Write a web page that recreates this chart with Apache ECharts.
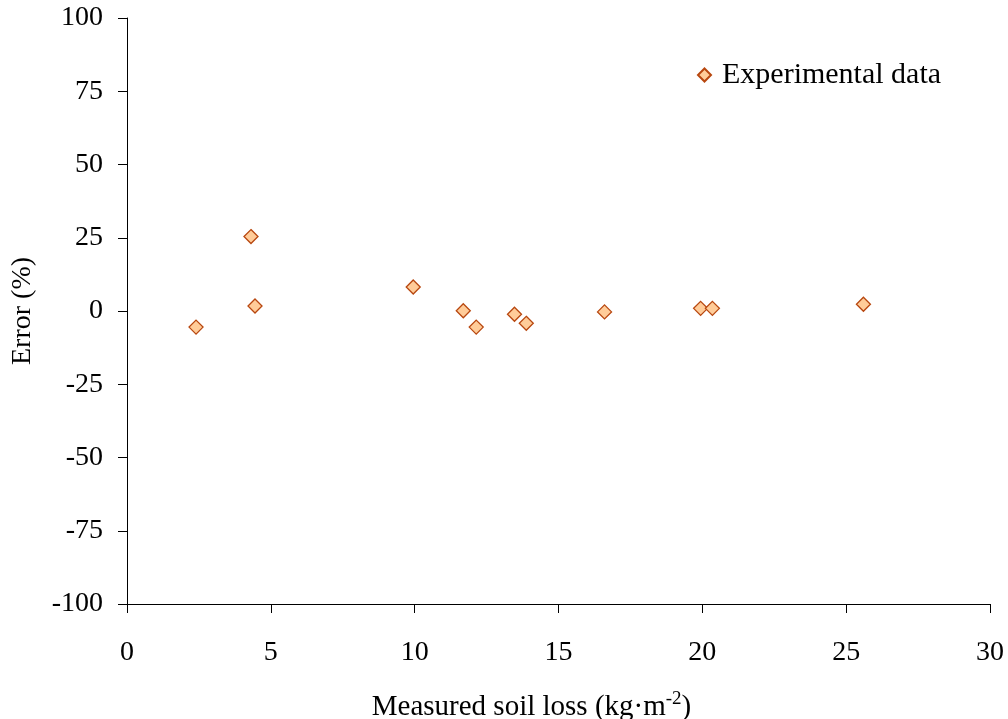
<!DOCTYPE html>
<html>
<head>
<meta charset="utf-8">
<script src="https://cdn.jsdelivr.net/npm/echarts@6/dist/echarts.min.js"></script>
<style>html,body{margin:0;padding:0;background:#fff}#c{width:1008px;height:719px}</style>
</head>
<body>
<div id="c"></div>
<script>
const soilLoss = [2.40, 4.31, 4.45, 9.95, 11.69, 12.14, 13.47, 13.88, 16.6, 19.94, 20.35, 25.6];
const errorPct = [-5.5, 25.4, 1.7, 8.2, 0.1, -5.5, -1.1, -4.2, -0.3, 0.9, 0.9, 2.3];
const seriesName = 'Experimental data';

const chart = echarts.init(document.getElementById('c'));
const font = 'Liberation Serif, Times New Roman, serif';
chart.setOption({
  animation: false,
  backgroundColor: '#fff',
  textStyle: {fontFamily: font},
  grid: {left: 127, right: 18, top: 18, bottom: 115, containLabel: false, outerBoundsMode: 'none'},
  legend: {
    data: [{name: seriesName, icon: 'diamond'}],
    left: 697, top: 60, padding: 0,
    itemWidth: 13, itemHeight: 13, itemGap: 6,
    textStyle: {fontFamily: font, fontSize: 30, color: '#000', padding: [0, 0, 0, 6]}
  },
  xAxis: {
    type: 'value', min: 0, max: 30, interval: 5,
    axisLine: {show: true, onZero: false, lineStyle: {color: '#000', width: 1}},
    axisTick: {show: true, inside: false, length: 9, lineStyle: {color: '#000'}},
    axisLabel: {color: '#000', fontSize: 28, fontFamily: font, margin: 35},
    splitLine: {show: false},
    name: '{t|Measured soil loss (kg·m}{s|-2}{t|)}',
    nameLocation: 'middle', nameGap: 86,
    nameTextStyle: {
      padding: [0, 54, 0, 0],
      rich: {
        t: {fontFamily: font, fontSize: 29, color: '#000', verticalAlign: 'bottom', lineHeight: 32},
        s: {fontFamily: font, fontSize: 19, color: '#000', verticalAlign: 'top', lineHeight: 32, padding: [0, 0, 16, 0]}
      }
    }
  },
  yAxis: {
    type: 'value', min: -100, max: 100, interval: 25,
    axisLine: {show: true, onZero: false, lineStyle: {color: '#000', width: 1}},
    axisTick: {show: true, inside: false, length: 9, lineStyle: {color: '#000'}},
    axisLabel: {color: '#000', fontSize: 28, fontFamily: font, margin: 24},
    splitLine: {show: false},
    name: 'Error (%)', nameLocation: 'middle', nameGap: 90,
    nameTextStyle: {fontFamily: font, fontSize: 28, color: '#000'}
  },
  series: [{
    name: seriesName,
    type: 'scatter',
    symbol: 'diamond',
    symbolSize: 14,
    itemStyle: {color: '#FFCC99', borderColor: '#B8470F', borderWidth: 1.3, opacity: 1},
    data: soilLoss.map((x, i) => [x, errorPct[i]])
  }]
});
</script>
</body>
</html>
